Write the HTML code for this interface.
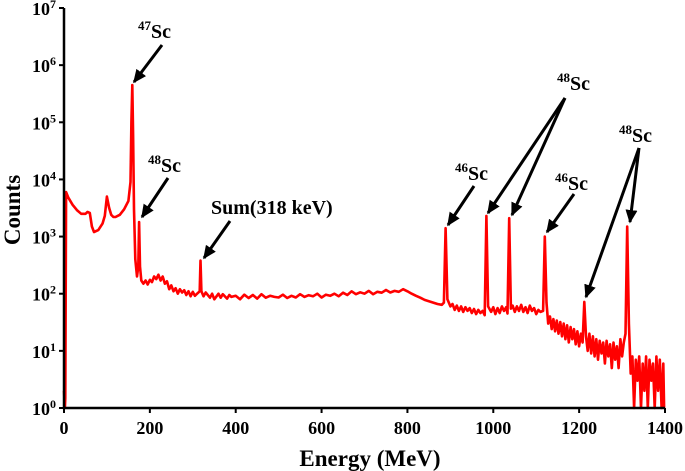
<!DOCTYPE html>
<html><head><meta charset="utf-8"><style>
html,body{margin:0;padding:0;background:#fff;width:685px;height:471px;overflow:hidden}
svg text{font-family:"Liberation Serif",serif;font-weight:bold;fill:#000}
</style></head><body>
<svg id="chart" width="685" height="471" viewBox="0 0 685 471" xmlns="http://www.w3.org/2000/svg">
<defs><marker id="ah" markerWidth="4.5" markerHeight="4" refX="4" refY="2" orient="auto" markerUnits="strokeWidth"><path d="M0,0 L4.5,2 L0,4 Z" fill="#000"/></marker></defs>
<g id="plot"></g>
<g id="axes"></g>
<g id="ann"></g>
</svg>
<script>
const energies=[0,2,3,5,10,20,30,40,50,55,60,65,70,80,90,95,100,105,110,115,120,130,140,150,155,157,159,161,163,166,170,173,175,177,180,185,190,195,200,205,210,215,220,225,230,235,240,245,250,255,260,265,270,275,280,285,290,295,300,305,310,316,318,320,325,330,340,345,350,360,365,370,380,385,390,400,410,420,430,440,450,460,470,480,490,500,510,520,530,540,550,560,570,580,590,600,610,620,630,640,650,660,670,680,690,700,710,720,730,740,750,760,770,780,790,800,810,820,830,840,850,860,870,880,885,889,893,900,905,910,915,920,925,930,935,940,945,950,955,960,965,970,975,980,984,988,995,1000,1005,1010,1015,1020,1025,1030,1033,1037,1041,1045,1050,1055,1060,1065,1070,1075,1080,1085,1090,1095,1100,1105,1110,1116,1120,1124,1128,1132,1136,1140,1144,1148,1152,1156,1160,1164,1168,1172,1176,1180,1184,1188,1192,1196,1200,1204,1208,1212,1216,1220,1224,1228,1232,1236,1240,1244,1248,1252,1256,1260,1264,1268,1272,1276,1280,1284,1288,1292,1296,1300,1304,1308,1312,1316,1320,1324,1328,1332,1336,1340,1344,1348,1352,1356,1360,1364,1368,1372,1376,1380,1384,1388,1392,1396,1398];
const counts=[2,1,1.5,6000,4800,3600,2900,2500,2500,2700,2600,1500,1200,1300,1700,2300,5000,3200,2400,2200,2200,2400,3000,4200,9000,100000,450000,60000,3000,400,200,300,1800,300,170,
150,170,145,175,160,200,180,215,170,200,150,165,120,140,110,125,100,120,105,115,95,110,90,108,92,100,
110,380,110,90,105,
85,100,80,100,85,98,82,95,88,
92,80,96,84,95,82,98,85,92,88,86,96,84,92,86,98,88,94,90,100,86,96,92,100,90,104,95,110,98,106,100,112,98,108,104,116,105,112,108,120,110,100,92,85,78,74,70,66,64,
70,1400,80,
60,66,52,62,50,60,48,58,50,56,46,54,44,52,46,50,42,
2300,60,
48,58,44,56,46,60,50,58,
45,2100,55,
62,48,60,50,64,48,58,46,62,50,56,44,52,48,
50,1000,70,
30,40,24,36,22,34,20,32,18,30,16,28,14,26,16,24,13,22,12,20,14,
72,
18,10,20,9,18,8,16,7,15,9,14,6,15,8,13,5,14,7,12,5,16,8,14,20,
1500,
30,4,8,1,7,3,8,1,6,2,8,1,7,3,6,1,8,2,7,1,6,
1];
const xTicks=[0,200,400,600,800,1000,1200,1400];
const yExps=[0,1,2,3,4,5,6,7];
const X0=64,X1=665,Y0=408,Y7=8;
function xs(e){return X0+(e/1400)*(X1-X0);}
function ys(c){return Y0-(Math.log10(Math.max(c,1)))*(Y0-Y7)/7;}
const NS="http://www.w3.org/2000/svg";
function mk(tag,attrs,parent){const el=document.createElementNS(NS,tag);for(const k in attrs)el.setAttribute(k,attrs[k]);parent.appendChild(el);return el;}
const plot=document.getElementById('plot'),axes=document.getElementById('axes'),ann=document.getElementById('ann');
let d='';energies.forEach((e,i)=>{d+=(i?'L':'M')+xs(e).toFixed(1)+','+ys(counts[i]).toFixed(1);});
const line=mk('path',{d:d,fill:'none',stroke:'#ff0000','stroke-width':2.6,'stroke-linejoin':'round'},plot);


const ax=mk('path',{d:`M${X0},${Y7} L${X0},${Y0} L${X1},${Y0}`,fill:'none',stroke:'#000','stroke-width':2.5},axes);


xTicks.forEach(v=>{const x=xs(v);
 mk('line',{x1:x,y1:Y0,x2:x,y2:Y0+5,stroke:'#000','stroke-width':2},axes);
 const t=mk('text',{x:x,y:Y0+26,'text-anchor':'middle','font-size':18},axes);t.textContent=v;
 
 });
yExps.forEach(n=>{const y=ys(Math.pow(10,n));
 mk('line',{x1:X0-5,y1:y,x2:X0,y2:y,stroke:'#000','stroke-width':2},axes);
 const t=mk('text',{x:X0-8,y:y+7,'text-anchor':'end','font-size':18},axes);
 t.innerHTML='10<tspan dy="-7" font-size="12">'+n+'</tspan>';
 
 });
const xt=mk('text',{x:370,y:466,'text-anchor':'middle','font-size':23},axes);xt.textContent='Energy (MeV)';


const yt=mk('text',{x:0,y:0,'text-anchor':'middle','font-size':23,transform:'translate(20,210) rotate(-90)'},axes);yt.textContent='Counts';


function label(x,y,sup,txt){const t=mk('text',{x:x,y:y,'font-size':20},ann);
 t.innerHTML=(sup?'<tspan font-size="13" dy="-8">'+sup+'</tspan><tspan dy="8">':'<tspan>')+txt+'</tspan>';
 
 }
function arrow(x1,y1,x2,y2){const a=mk('line',{x1:x1,y1:y1,x2:x2,y2:y2,stroke:'#000','stroke-width':3,'marker-end':'url(#ah)'},ann);
 
 }
label(138,38,'47','Sc');arrow(162,45,134,82);
label(148,172,'48','Sc');arrow(168,178,142,217);
label(211,214,null,'Sum(318 keV)');arrow(230,221,204,258);
label(455,180,'46','Sc');arrow(474,186,448,225);
label(557,90,'48','Sc');arrow(565,98,488,213);arrow(565,98,512,215);
label(555,190,'46','Sc');arrow(574,194,547,232);
label(619,142,'48','Sc');arrow(639,148,586,297);arrow(639,148,630,222);
</script>
</body></html>
